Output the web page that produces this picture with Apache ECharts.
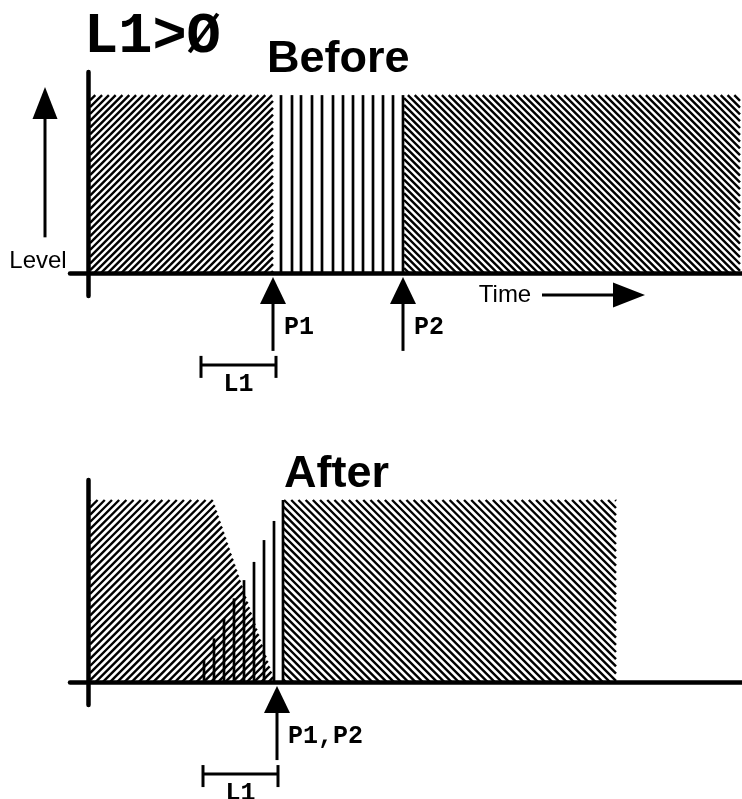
<!DOCTYPE html>
<html>
<head>
<meta charset="utf-8">
<script src="https://cdn.jsdelivr.net/npm/echarts@6/dist/echarts.min.js"></script>
<style>
  html, body { margin: 0; padding: 0; background: #fff; }
  #main { width: 742px; height: 799px; }
</style>
</head>
<body>
<div id="main"></div>
<script>
// time units (1 unit ~ one spike spacing), level 0..1
const xMin = -1.8, xMax = 65.4;

// Before: hatched regions as [time, level] outlines, and the vertical spikes
const beforeHatchL = [[0.2, 0], [0.2, 1], [18.5, 1], [18.5, 0]];
const beforeHatchR = [[31.6, 0], [31.6, 1], [65.2, 1], [65.2, 0]];
const beforeSpikeX = [19.3, 20.4, 21.3, 22.4, 23.4, 24.5, 25.5, 26.5, 27.5, 28.5, 29.5, 30.5, 31.5];
const beforeSpikeLevel = [1, 1, 1, 1, 1, 1, 1, 1, 1, 1, 1, 1, 1];
const beforeMarkX = [18.5, 31.5];
const beforeMarkLabel = ['P1', 'P2'];
const beforeL1 = [11.3, 18.8];

// After
const afterHatchL = [[0.2, 0], [0.2, 1], [12.5, 1], [18.7, 0]];
const afterHatchR = [[19.5, 0], [19.5, 1], [52.8, 1], [52.8, 0]];
const afterSpikeX = [11.6, 12.6, 13.6, 14.6, 15.6, 16.6, 17.6, 18.6, 19.5];
const afterSpikeLevel = [0.12, 0.24, 0.35, 0.46, 0.56, 0.66, 0.78, 0.885, 1];
const afterMarkX = [18.9];
const afterMarkLabel = ['P1,P2'];
const afterL1 = [11.5, 19.0];

const monoFont = 'bold 25px "Liberation Mono", monospace';
const sansFont = '24px "Liberation Sans", Arial, sans-serif';

// clip a family of parallel lines to a convex polygon (pixel coords)
function hatchLines(pts, dir, step) {
  const n = dir === '/' ? [1, 1] : [1, -1];
  const vals = pts.map(p => n[0] * p[0] + n[1] * p[1]);
  const lo = Math.min(...vals), hi = Math.max(...vals);
  const segs = [];
  for (let c = Math.ceil(lo / step) * step; c <= hi; c += step) {
    const hits = [];
    for (let i = 0; i < pts.length; i++) {
      const j = (i + 1) % pts.length;
      const va = vals[i] - c, vb = vals[j] - c;
      if ((va <= 0 && vb > 0) || (va > 0 && vb <= 0)) {
        const t = va / (va - vb);
        hits.push([pts[i][0] + t * (pts[j][0] - pts[i][0]), pts[i][1] + t * (pts[j][1] - pts[i][1])]);
      }
    }
    if (hits.length >= 2) segs.push([hits[0], hits[1]]);
  }
  return segs;
}

function hatchSeries(g, polys, dirs, step) {
  return {
    type: 'custom', xAxisIndex: g, yAxisIndex: g, silent: true,
    data: polys.map((p, i) => [p[0][0], p[0][1], i]),
    renderItem: function (params, api) {
      const i = params.dataIndex;
      const pts = polys[i].map(p => api.coord(p));
      return {
        type: 'group',
        children: hatchLines(pts, dirs[i], step).map(s => ({
          type: 'line',
          shape: { x1: s[0][0], y1: s[0][1], x2: s[1][0], y2: s[1][1] },
          style: { stroke: '#000', lineWidth: 2.4 }
        }))
      };
    }
  };
}

function spikeSeries(g, xs, levels) {
  return {
    type: 'custom', xAxisIndex: g, yAxisIndex: g, silent: true,
    data: xs.map((x, i) => [x, levels[i]]),
    renderItem: function (params, api) {
      const p0 = api.coord([api.value(0), 0]);
      const p1 = api.coord([api.value(0), api.value(1)]);
      return { type: 'line', shape: { x1: p0[0], y1: p0[1], x2: p1[0], y2: p1[1] }, style: { stroke: '#000', lineWidth: 2.7 } };
    }
  };
}

function markerSeries(g, xs, labels, l1) {
  return {
    type: 'custom', xAxisIndex: g, yAxisIndex: g, silent: true,
    data: xs.map((x, i) => [x, 0, i]),
    renderItem: function (params, api) {
      const p = api.coord([api.value(0), 0]);
      const kids = [
        { type: 'polygon', shape: { points: [[p[0], p[1] + 4], [p[0] - 13, p[1] + 31], [p[0] + 13, p[1] + 31]] }, style: { fill: '#000' } },
        { type: 'line', shape: { x1: p[0], y1: p[1] + 28, x2: p[0], y2: p[1] + 78 }, style: { stroke: '#000', lineWidth: 3 } },
        { type: 'text', x: p[0] + 11, y: p[1] + 55, style: { text: labels[params.dataIndex], font: monoFont, fill: '#000', align: 'left', verticalAlign: 'middle' } }
      ];
      if (params.dataIndex === 0) {
        const a = api.coord([l1[0], 0]), b = api.coord([l1[1], 0]);
        const y = p[1] + 92;
        kids.push(
          { type: 'line', shape: { x1: a[0], y1: y, x2: b[0], y2: y }, style: { stroke: '#000', lineWidth: 3 } },
          { type: 'line', shape: { x1: a[0], y1: y - 9, x2: a[0], y2: y + 13 }, style: { stroke: '#000', lineWidth: 3 } },
          { type: 'line', shape: { x1: b[0], y1: y - 9, x2: b[0], y2: y + 13 }, style: { stroke: '#000', lineWidth: 3 } },
          { type: 'text', x: (a[0] + b[0]) / 2, y: y + 20, style: { text: 'L1', font: monoFont, fill: '#000', align: 'center', verticalAlign: 'middle' } }
        );
      }
      return { type: 'group', children: kids };
    }
  };
}

// axis captions: Level arrow on the left, Time arrow under the axis
const captionSeries = {
  type: 'custom', xAxisIndex: 0, yAxisIndex: 0, silent: true,
  data: [[0, 0]],
  renderItem: function (params, api) {
    const lv = api.coord([-4.3, 1]);
    const lvEnd = api.coord([-4.3, 0.2]);
    const lvText = api.coord([-5.0, 0]);
    const t0 = api.coord([45.4, 0]);
    const t1 = api.coord([55.7, 0]);
    const tText = api.coord([41.7, 0]);
    return {
      type: 'group',
      children: [
        { type: 'polygon', shape: { points: [[lv[0], lv[1] - 8], [lv[0] - 12.5, lv[1] + 24], [lv[0] + 12.5, lv[1] + 24]] }, style: { fill: '#000' } },
        { type: 'line', shape: { x1: lv[0], y1: lv[1] + 20, x2: lv[0], y2: lvEnd[1] }, style: { stroke: '#000', lineWidth: 3 } },
        { type: 'text', x: lvText[0], y: lvText[1] - 12, style: { text: 'Level', font: sansFont, fill: '#000', align: 'center', verticalAlign: 'middle' } },
        { type: 'line', shape: { x1: t0[0], y1: t0[1] + 22, x2: t1[0] - 28, y2: t1[1] + 22 }, style: { stroke: '#000', lineWidth: 3 } },
        { type: 'polygon', shape: { points: [[t1[0], t1[1] + 22], [t1[0] - 32, t1[1] + 9.5], [t1[0] - 32, t1[1] + 34.5]] }, style: { fill: '#000' } },
        { type: 'text', x: tText[0], y: tText[1] + 22, style: { text: 'Time', font: sansFont, fill: '#000', align: 'center', verticalAlign: 'middle' } }
      ]
    };
  }
};

function xAxisOf(g) {
  return {
    type: 'value', gridIndex: g, min: xMin, max: xMax,
    axisLine: { onZero: true, lineStyle: { color: '#000', width: 4.5 } },
    axisTick: { show: false }, axisLabel: { show: false }, splitLine: { show: false }
  };
}
function yAxisOf(g, lo, hi) {
  return {
    type: 'value', gridIndex: g, min: lo, max: hi,
    axisLine: { onZero: true, lineStyle: { color: '#000', width: 4.5 } },
    axisTick: { show: false }, axisLabel: { show: false }, splitLine: { show: false }
  };
}

const chart = echarts.init(document.getElementById('main'), null, { renderer: 'canvas' });
chart.setOption({
  animation: false,
  backgroundColor: '#fff',
  graphic: [
    { type: 'text', left: 84, top: 9, style: { text: 'L1>Ø', font: 'bold 57px "Liberation Mono", monospace', fill: '#000' } },
    { type: 'text', left: 267, top: 37, style: { text: 'Before', font: 'bold 45px "Liberation Sans", Arial, sans-serif', fill: '#000' } },
    { type: 'text', left: 284, top: 452, style: { text: 'After', font: 'bold 45px "Liberation Sans", Arial, sans-serif', fill: '#000' } }
  ],
  grid: [
    { left: 70, top: 72, width: 672, height: 224 },
    { left: 70, top: 480, width: 672, height: 225 }
  ],
  xAxis: [xAxisOf(0), xAxisOf(1)],
  yAxis: [yAxisOf(0, -0.13, 1.13), yAxisOf(1, -0.126, 1.11)],
  series: [
    hatchSeries(0, [beforeHatchL, beforeHatchR], ['/', '\\'], 6.8),
    spikeSeries(0, beforeSpikeX, beforeSpikeLevel),
    markerSeries(0, beforeMarkX, beforeMarkLabel, beforeL1),
    captionSeries,
    hatchSeries(1, [afterHatchL, afterHatchR], ['/', '\\'], 7.2),
    spikeSeries(1, afterSpikeX, afterSpikeLevel),
    markerSeries(1, afterMarkX, afterMarkLabel, afterL1)
  ]
});
</script>
</body>
</html>
